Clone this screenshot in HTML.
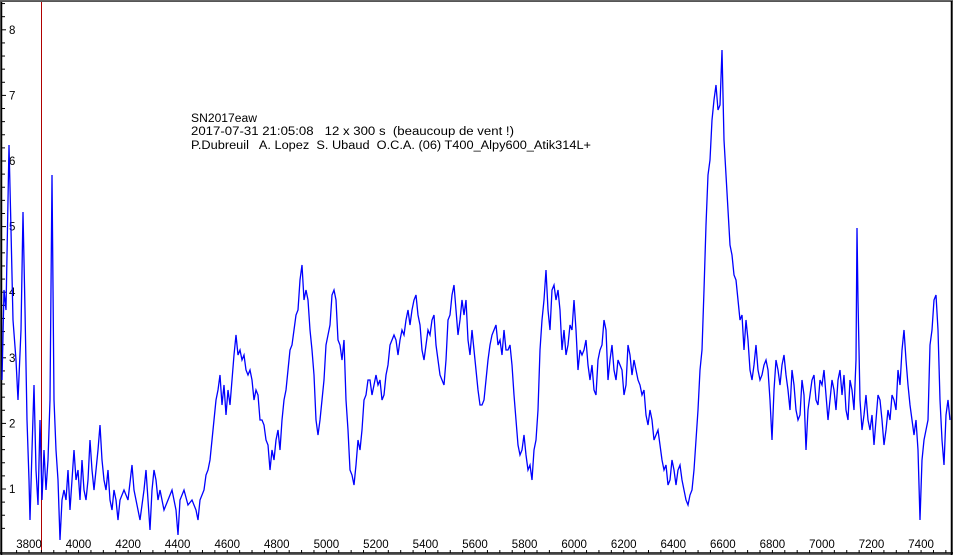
<!DOCTYPE html><html><head><style>body{margin:0;background:#fff}svg{display:block}text{font-family:"Liberation Sans",sans-serif;font-size:11.5px;fill:#000}</style></head><body>
<svg width="953" height="555" viewBox="0 0 953 555">
<rect x="0" y="0" width="953" height="555" fill="#fff"/>
<rect x="0.5" y="0.5" width="952" height="554" fill="none" stroke="#666" stroke-width="1"/>
<line x1="1.5" y1="1" x2="1.5" y2="555" stroke="#000" stroke-width="1.5"/>
<line x1="0" y1="1.5" x2="953" y2="1.5" stroke="#555"/>
<line x1="951.5" y1="1" x2="951.5" y2="555" stroke="#000" stroke-width="1.5"/>
<line x1="0" y1="553" x2="953" y2="553" stroke="#000" stroke-width="1.5"/>
<line x1="41.5" y1="2" x2="41.5" y2="553" stroke="#b00000" stroke-width="1"/>
<g id="ticks" stroke="#000" stroke-width="1"></g>
<g id="lbl"></g>
<polyline id="sp" fill="none" stroke="#0000ff" stroke-width="1.3" stroke-linejoin="miter"/>
<text x="191" y="122" textLength="66" lengthAdjust="spacingAndGlyphs">SN2017eaw</text>
<text x="191" y="135" xml:space="preserve" textLength="323" lengthAdjust="spacingAndGlyphs">2017-07-31 21:05:08   12 x 300 s  (beaucoup de vent !)</text>
<text x="191" y="149" xml:space="preserve" textLength="400" lengthAdjust="spacingAndGlyphs">P.Dubreuil   A. Lopez  S. Ubaud  O.C.A. (06) T400_Alpy600_Atik314L+</text>
</svg>
<script>
var ns="http://www.w3.org/2000/svg",t=document.getElementById('ticks'),l=document.getElementById('lbl');
function el(g,n,a,tx){var e=document.createElementNS(ns,n);for(var k in a)e.setAttribute(k,a[k]);if(tx)e.textContent=tx;g.appendChild(e);}
for(var v=0.4;v<=8.41;v+=0.2){var y=554.6-v*65.6;var maj=Math.abs(v-Math.round(v))<0.01;el(t,'line',{x1:1,x2:maj?6:5,y1:y,y2:y});if(maj)el(l,'text',{x:9,y:y+4},Math.round(v));}
for(var w=3750;w<=7550;w+=50){var x=29+(w-3800)*0.2478;if(x<2||x>951)continue;el(t,'line',{x1:x,x2:x,y1:553,y2:550});if(w%200==0)el(l,'text',{x:x,y:548,'text-anchor':'middle'},w);}
var d=[2,380,4,290,6,310,9,145,11,230,13,320,16,360,18,400,21,330,23,212,25,310,27,420,29,480,30,520,32,450,34,385,36,470,38,505,40,420,42,500,44,450,46,490,48,460,50,400,52,175,54,400,56,450,58,480,60,540,62,500,64,490,66,500,68,470,70,510,72,480,74,450,76,480,78,470,80,500,82,460,84,490,86,500,88,480,90,440,92,470,94,490,96,470,98,450,100,425,102,460,104,480,106,490,108,470,110,500,112,510,114,490,116,500,118,520,120,500,124,490,128,500,132,465,134,490,136,500,140,520,144,490,146,470,148,500,150,530,152,490,154,470,156,480,158,500,160,490,164,510,168,500,172,490,176,510,178,535,180,500,184,490,188,505,192,500,196,510,198,520,200,500,204,490,206,475,208,470,210,460,212,440,214,420,216,400,218,390,220,375,222,405,224,385,226,415,228,390,230,405,232,380,234,355,236,335,238,355,240,350,242,360,244,355,246,370,248,375,250,370,252,380,254,400,256,390,258,395,260,420,262,420,264,425,266,440,268,445,270,470,272,450,274,460,276,440,278,430,280,450,282,420,284,400,286,390,288,370,290,350,292,345,294,330,296,315,298,310,300,280,302,265,304,300,306,290,308,300,310,330,312,350,314,375,316,420,318,435,320,420,322,400,324,380,326,345,328,335,330,325,332,295,334,290,336,300,338,340,340,345,342,360,344,340,346,400,348,430,350,470,352,475,354,485,356,465,358,440,360,450,362,430,364,400,366,395,368,380,370,380,372,395,374,385,376,375,378,385,380,380,382,400,384,395,386,375,388,365,390,345,392,340,394,335,396,340,398,355,400,340,402,330,404,335,406,320,408,310,410,325,412,310,414,300,416,295,418,315,420,325,422,350,424,360,426,345,428,330,430,335,432,320,434,315,436,345,438,360,440,375,442,380,444,385,446,360,448,320,450,315,452,295,454,285,456,310,458,335,460,320,462,300,464,315,466,300,468,340,470,355,472,330,474,350,476,370,478,390,480,405,482,405,484,400,486,380,488,360,490,345,492,335,494,330,496,325,498,345,500,340,502,355,504,330,506,350,508,350,510,345,512,365,514,395,516,420,518,445,520,455,522,450,524,435,526,455,528,470,530,465,532,480,534,450,536,440,538,410,540,350,542,320,544,300,546,270,548,310,550,330,552,290,554,285,556,300,558,290,560,310,562,350,564,330,566,355,568,345,570,325,572,330,574,300,576,330,578,370,580,350,582,355,584,350,586,340,588,365,590,380,592,365,594,390,596,395,598,360,600,350,602,345,604,320,606,330,608,380,610,360,612,345,614,370,616,380,618,360,620,365,622,370,624,395,626,385,628,345,630,355,632,375,634,360,636,370,638,380,640,385,642,395,644,390,646,415,648,425,650,410,652,420,654,440,656,435,658,430,660,445,662,460,664,470,666,465,668,485,670,480,672,460,674,470,676,485,678,470,680,465,682,480,684,490,686,500,688,505,690,495,692,490,694,470,696,440,698,410,700,370,702,350,704,290,706,225,708,175,710,160,712,120,714,100,716,85,718,110,720,105,722,50,724,140,726,175,728,210,730,245,732,255,734,275,736,280,738,300,740,320,742,315,744,350,746,320,748,340,750,370,752,380,754,365,756,345,758,370,760,380,762,375,764,365,766,360,768,370,770,400,772,440,774,390,776,360,778,370,780,385,782,365,784,355,786,375,788,390,790,410,792,370,794,385,796,410,798,420,800,415,802,380,804,395,806,450,808,410,810,395,812,380,814,375,816,400,818,405,820,380,822,385,824,370,826,395,828,420,830,400,832,380,834,390,836,410,838,380,840,370,842,395,844,375,846,410,848,420,850,380,852,390,854,410,856,360,857,228,858,300,860,400,862,430,864,415,866,395,868,420,870,430,872,415,874,445,876,420,878,395,880,400,882,420,884,445,886,430,888,410,890,420,892,395,894,400,896,410,898,370,900,385,902,350,904,330,906,360,908,385,910,405,912,420,914,435,916,420,918,450,920,520,922,460,924,440,926,430,928,420,930,345,932,330,934,300,936,295,938,330,940,400,942,440,944,465,946,415,948,400,950,420];
var p=[];for(var i=0;i<d.length;i+=2)p.push(d[i]+','+d[i+1]);document.getElementById('sp').setAttribute('points',p.join(' '));
</script>
</body></html>
